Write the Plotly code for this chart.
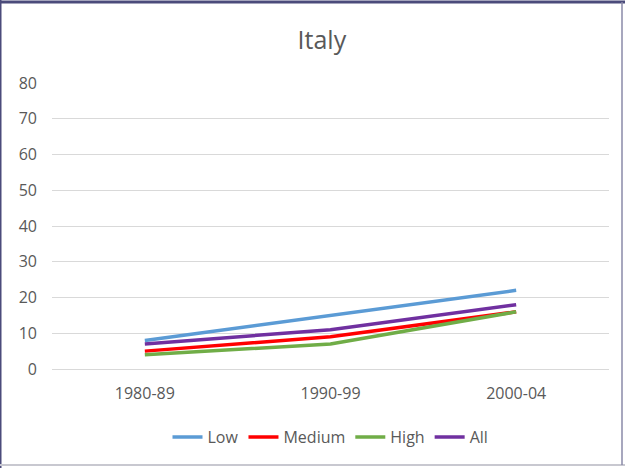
import plotly.graph_objects as go

# Categories and series values
periods = ["1980-89", "1990-99", "2000-04"]
low = [8, 15, 22]
medium = [5, 9, 16]
high = [4, 7, 16]
all_levels = [7, 11, 18]

series_names = ["Low", "Medium", "High", "All"]
series_values = [low, medium, high, all_levels]
series_colors = ["#5B9BD5", "#FF0000", "#70AD47", "#7030A0"]

y_ticks = [0, 10, 20, 30, 40, 50, 60, 70, 80]

fig = go.Figure()
for name, vals, color in zip(series_names, series_values, series_colors):
    fig.add_trace(go.Scatter(
        x=periods, y=vals, name=name, mode="lines",
        line=dict(color=color, width=3.5),
    ))

font_family = "Open Sans, Lato, sans-serif"
text_color = "#595959"

fig.update_layout(
    width=625, height=468,
    margin=dict(l=52, r=16, t=83, b=99),
    paper_bgcolor="white", plot_bgcolor="white",
    font=dict(family=font_family, size=16, color=text_color),
    title=dict(text="Italy", x=0.515, xanchor="center", y=0.915, yanchor="middle",
               font=dict(size=25, color=text_color, family=font_family)),
    xaxis=dict(
        type="category", range=[-0.5, 2.5], showgrid=False, zeroline=False,
        showline=False, ticks="", tickfont=dict(size=16, color=text_color),
        ticklabelstandoff=13,
    ),
    yaxis=dict(
        range=[0, 80], tickvals=y_ticks, showgrid=True, gridcolor="#D9D9D9",
        gridwidth=1, zeroline=True, zerolinecolor="#D9D9D9", zerolinewidth=1,
        showline=False, ticks="", tickfont=dict(size=16, color=text_color),
        ticklabelstandoff=14,
    ),
    legend=dict(
        orientation="h", x=0.5, xanchor="center", y=-0.238, yanchor="middle",
        font=dict(size=16, color=text_color),
        tracegroupgap=0, bgcolor="rgba(0,0,0,0)",
    ),
    showlegend=True,
)

# Outer chart frame
fig.add_shape(type="line", xref="paper", yref="paper", x0=-52/557, x1=-52/557,
              y0=-99/286, y1=1 + 83/286, line=dict(color="#4B4B7B", width=3))
fig.add_shape(type="line", xref="paper", yref="paper", x0=-52/557, x1=1 + 16/557,
              y0=1 + 81/286, y1=1 + 81/286, line=dict(color="#4B4B7B", width=3))
fig.add_shape(type="line", xref="paper", yref="paper", x0=-52/557, x1=1 + 16/557,
              y0=-96/286, y1=-96/286, line=dict(color="#C8C8D0", width=2))
fig.add_shape(type="line", xref="paper", yref="paper", x0=1 + 13/557, x1=1 + 13/557,
              y0=-96/286, y1=1 + 81/286, line=dict(color="#8A8AA8", width=1.5))

fig.write_html("out.html")
